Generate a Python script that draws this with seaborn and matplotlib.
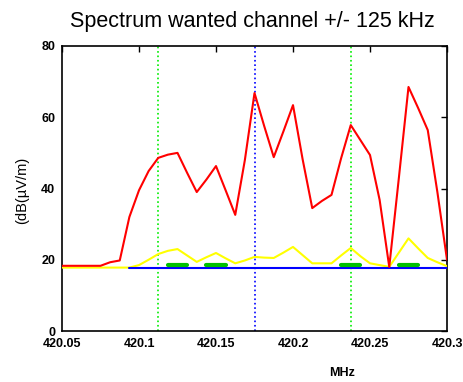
import numpy as np
import pandas as pd
import matplotlib
matplotlib.use("Agg")
import matplotlib.pyplot as plt
import seaborn as sns

# Frequency grid (MHz), 6.25 kHz steps
freq_mhz = [420.05 + 0.00625 * k for k in range(41)]

# Measured spectrum (red)
spectrum = [18.3, 18.3, 18.3, 18.3, 18.3, 19.3, 19.8, 32, 39.5, 44.9,
            48.6, 49.5, 50, 44.4, 39, 42.5, 46.3, 39.5, 32.6, 48,
            66.8, 57.6, 48.8, 56, 63.4, 48.2, 34.5, 36.5, 38.2, 48.5,
            57.8, 53.6, 49.4, 36.8, 18, 43, 68.5, 62.6, 56.4, 39,
            20]

# Reference level (yellow)
reference = [17.8, 17.8, 17.8, 17.8, 17.8, 17.8, 17.8, 17.8, 18.5, 20,
             21.6, 22.5, 23, 21.2, 19.4, 20.7, 21.9, 20.4, 19, 19.8,
             20.8, 20.6, 20.5, 22, 23.6, 21.3, 19, 19, 19, 21.2,
             23.3, 21, 19, 18.5, 18, 22, 26, 23.2, 20.5, 19.3,
             18.2]

# Noise floor (blue), from 420.09375 MHz onward
floor_start = 7
floor_value = 17.8

# Detected carriers (green): grid indices of each segment and level
carrier_segments = [(11, 13), (15, 17), (29, 31), (35, 37)]
carrier_level = 18.5

# Channel markers
channel_edges = [420.1125, 420.2375]
channel_centre = 420.175

x_ticks = [420.05, 420.1, 420.15, 420.2, 420.25, 420.3]
x_tick_labels = ["420.05", "420.1", "420.15", "420.2", "420.25", "420.3"]
y_ticks = [0, 20, 40, 60, 80]

df = pd.DataFrame({"freq": freq_mhz, "spectrum": spectrum, "reference": reference})
floor_df = pd.DataFrame({"freq": freq_mhz[floor_start:],
                         "level": [floor_value] * (len(freq_mhz) - floor_start)})
carrier_rows = []
for seg_id, (i0, i1) in enumerate(carrier_segments):
    for i in range(i0, i1 + 1):
        carrier_rows.append({"freq": freq_mhz[i], "level": carrier_level, "seg": seg_id})
carrier_df = pd.DataFrame(carrier_rows)

sns.set_style("white")
plt.rcParams["font.family"] = ["Liberation Sans", "DejaVu Sans"]
plt.rcParams["text.color"] = "black"

fig = plt.figure(figsize=(4.64, 3.82), dpi=100)
ax = fig.add_axes([62 / 464, 1 - 331 / 382, 385 / 464, 285 / 382])

sns.lineplot(data=df, x="freq", y="reference", ax=ax, color="#ffff00",
             linewidth=1.5, zorder=3)
sns.lineplot(data=floor_df, x="freq", y="level", ax=ax, color="#0000ff",
             linewidth=1.5, zorder=4)
sns.lineplot(data=carrier_df, x="freq", y="level", units="seg", estimator=None,
             ax=ax, color="#00c000", linewidth=3, zorder=5)
sns.lineplot(data=df, x="freq", y="spectrum", ax=ax, color="#ff0000",
             linewidth=1.5, zorder=6)

for xe in channel_edges:
    ax.axvline(xe, color="#00ee00", linestyle=":", linewidth=1.2, zorder=2)
ax.axvline(channel_centre, color="#0000ff", linestyle=":", linewidth=1.2, zorder=2)

ax.set_xlim(420.05, 420.3)
ax.set_ylim(0, 80)
ax.set_xticks(x_ticks)
ax.set_xticklabels(x_tick_labels)
ax.set_yticks(y_ticks)
ax.tick_params(direction="in", length=4, width=1, top=True, right=True,
               labelsize=9, pad=5, colors="black")
for lbl in ax.get_xticklabels() + ax.get_yticklabels():
    lbl.set_fontweight("bold")
    lbl.set_fontstretch("condensed")

for sp in ax.spines.values():
    sp.set_color("black")
    sp.set_linewidth(1.2)

ax.set_xlabel("")
ax.set_ylabel("")
fig.text(342 / 464, 1 - 373 / 382, "MHz", ha="center", va="center",
         fontsize=9, fontweight="bold", color="black")
fig.text(22 / 464, 1 - 190 / 382, "(dB(\u00b5V/m)", ha="center", va="center",
         rotation=90, fontsize=10.5, color="black")
fig.text(252 / 464, 1 - 22 / 382, "Spectrum wanted channel +/- 125 kHz",
         ha="center", va="center", fontsize=15.5, color="black")

fig.savefig("out.png", dpi=100)
